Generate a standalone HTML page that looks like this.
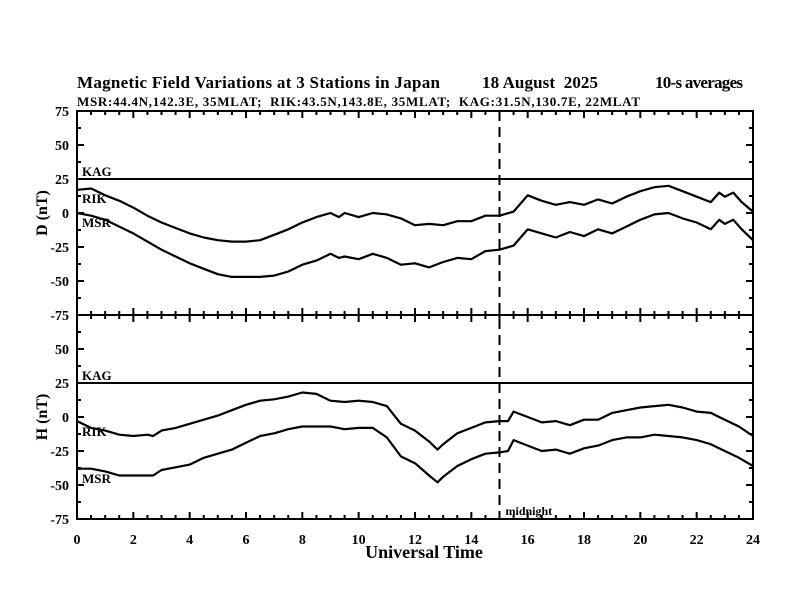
<!DOCTYPE html>
<html><head><meta charset="utf-8"><style>
body{margin:0;background:#fff}
svg{display:block;font-family:"Liberation Serif",serif;font-weight:bold}
</style></head><body>
<svg id="c" width="792" height="612" viewBox="0 0 792 612">
<text x="77" y="88" font-size="17" textLength="363" style="font-weight:600">Magnetic Field Variations at 3 Stations in Japan</text>
<text x="482" y="88" font-size="17" textLength="116" style="font-weight:600">18 August&#160;&#160;2025</text>
<text x="655" y="88" font-size="17" textLength="88" style="font-weight:600">10-s averages</text>
<text x="77" y="106" font-size="13" textLength="563">MSR:44.4N,142.3E, 35MLAT;&#160;&#160;RIK:43.5N,143.8E, 35MLAT;&#160;&#160;KAG:31.5N,130.7E, 22MLAT</text>
<text transform="translate(47,213) rotate(-90)" text-anchor="middle" font-size="16">D (nT)</text>
<text transform="translate(47,417) rotate(-90)" text-anchor="middle" font-size="16">H (nT)</text>
<text x="424" y="558" text-anchor="middle" font-size="18">Universal Time</text>
<g id="g"></g>
</svg>
<script>
const ticksX=[0,2,4,6,8,10,12,14,16,18,20,22,24];
const ticksY=[75,50,25,0,-25,-50,-75];
const kagLevel=25;
const midnightHour=15;
const dT=[0,0.5,1,1.5,2,2.5,3,3.5,4,4.5,5,5.5,6,6.5,7,7.5,8,8.5,9,9.3,9.5,10,10.5,11,11.5,12,12.5,13,13.5,14,14.5,15,15.5,16,16.5,17,17.5,18,18.5,19,19.5,20,20.5,21,21.5,22,22.5,22.8,23,23.3,23.6,24];
const dRIK=[17,18,13,9,4,-2,-7,-11,-15,-18,-20,-21,-21,-20,-16,-12,-7,-3,0,-3,0,-3,0,-1,-4,-9,-8,-9,-6,-6,-2,-2,1,13,9,6,8,6,10,7,12,16,19,20,16,12,8,15,12,15,8,1];
const dMSR=[0,-2,-5,-10,-15,-21,-27,-32,-37,-41,-45,-47,-47,-47,-46,-43,-38,-35,-30,-33,-32,-34,-30,-33,-38,-37,-40,-36,-33,-34,-28,-27,-24,-12,-15,-18,-14,-17,-12,-15,-10,-5,-1,0,-4,-7,-12,-5,-8,-5,-12,-20];
const hT=[0,0.5,1,1.5,2,2.5,2.7,3,3.5,4,4.5,5,5.5,6,6.5,7,7.5,8,8.5,9,9.5,10,10.5,11,11.5,12,12.5,12.8,13,13.5,14,14.5,15,15.3,15.5,16,16.5,17,17.5,18,18.5,19,19.5,20,20.5,21,21.5,22,22.5,23,23.5,24];
const hRIK=[-3,-8,-10,-13,-14,-13,-14,-10,-8,-5,-2,1,5,9,12,13,15,18,17,12,11,12,11,8,-5,-10,-18,-24,-20,-12,-8,-4,-3,-3,4,0,-4,-3,-6,-2,-2,3,5,7,8,9,7,4,3,-2,-7,-14];
const hMSR=[-38,-38,-40,-43,-43,-43,-43,-39,-37,-35,-30,-27,-24,-19,-14,-12,-9,-7,-7,-7,-9,-8,-8,-15,-29,-34,-43,-48,-44,-36,-31,-27,-26,-25,-17,-21,-25,-24,-27,-23,-21,-17,-15,-15,-13,-14,-15,-17,-20,-25,-30,-36];
const NS='http://www.w3.org/2000/svg';
const g=document.getElementById('g');
const X0=77,X1=753;
const x=t=>X0+(X1-X0)*t/24;
const panels=[{top:111,bot:315,name:'d',lab:{rik:203,msr:227}},{top:315,bot:519,name:'h',lab:{rik:436,msr:483}}];
function yf(p){return v=>p.top+(75-v)/150*(p.bot-p.top);}
function mk(tag,at){const e=document.createElementNS(NS,tag);for(const k in at)e.setAttribute(k,at[k]);g.appendChild(e);return e;}
panels.forEach((p,pi)=>{
  const y=yf(p);
  const fr=mk('rect',{x:X0,y:p.top,width:X1-X0,height:p.bot-p.top,fill:'none',stroke:'#000','stroke-width':2});
  
  
  for(let t=0;t<=24;t+=0.5){const L=(t%2===0)?7:4;
    mk('line',{x1:x(t),x2:x(t),y1:p.top,y2:p.top+L,stroke:'#000','stroke-width':2});
    mk('line',{x1:x(t),x2:x(t),y1:p.bot,y2:p.bot-L,stroke:'#000','stroke-width':2});}
  for(let v=-75;v<=75;v+=12.5){const L=(v%25===0)?7:4;
    mk('line',{x1:X0,x2:X0+L,y1:y(v),y2:y(v),stroke:'#000','stroke-width':2});
    mk('line',{x1:X1,x2:X1-L,y1:y(v),y2:y(v),stroke:'#000','stroke-width':2});}
  ticksY.forEach(v=>{const lab=(pi===1&&v===75)?'-75':String(v);
    if(pi===0&&v===-75)return;
    const t=mk('text',{x:X0-8,y:y(v)+5,'text-anchor':'end','font-size':14});t.textContent=lab;
    
    });
  const k=mk('line',{x1:X0,x2:X1,y1:y(kagLevel),y2:y(kagLevel),stroke:'#000','stroke-width':2});
  
  
  const kt=mk('text',{x:82,y:y(kagLevel)-3,'font-size':13});kt.textContent='KAG';
  
  
  const T=pi?hT:dT,R=pi?hRIK:dRIK,M=pi?hMSR:dMSR;
  [[R,'rik'],[M,'msr']].forEach(([arr,nm])=>{
    const pl=mk('polyline',{points:T.map((t,i)=>x(t).toFixed(1)+','+y(arr[i]).toFixed(1)).join(' '),fill:'none',stroke:'#000','stroke-width':2.2,'stroke-linejoin':'round'});
    
    
    const lt=mk('text',{x:82,y:p.lab[nm],'font-size':13});
    lt.textContent=nm.toUpperCase();
    
    
  });
});
ticksX.forEach(t=>{const e=mk('text',{x:x(t),y:544,'text-anchor':'middle','font-size':14});e.textContent=String(t);
  
  });
const md=mk('line',{x1:x(midnightHour),x2:x(midnightHour),y1:111,y2:519,stroke:'#000','stroke-width':2,'stroke-dasharray':'10,6'});


const mt=mk('text',{x:x(midnightHour)+6,y:515,'font-size':12});mt.textContent='midnight';


</script>
</body></html>
